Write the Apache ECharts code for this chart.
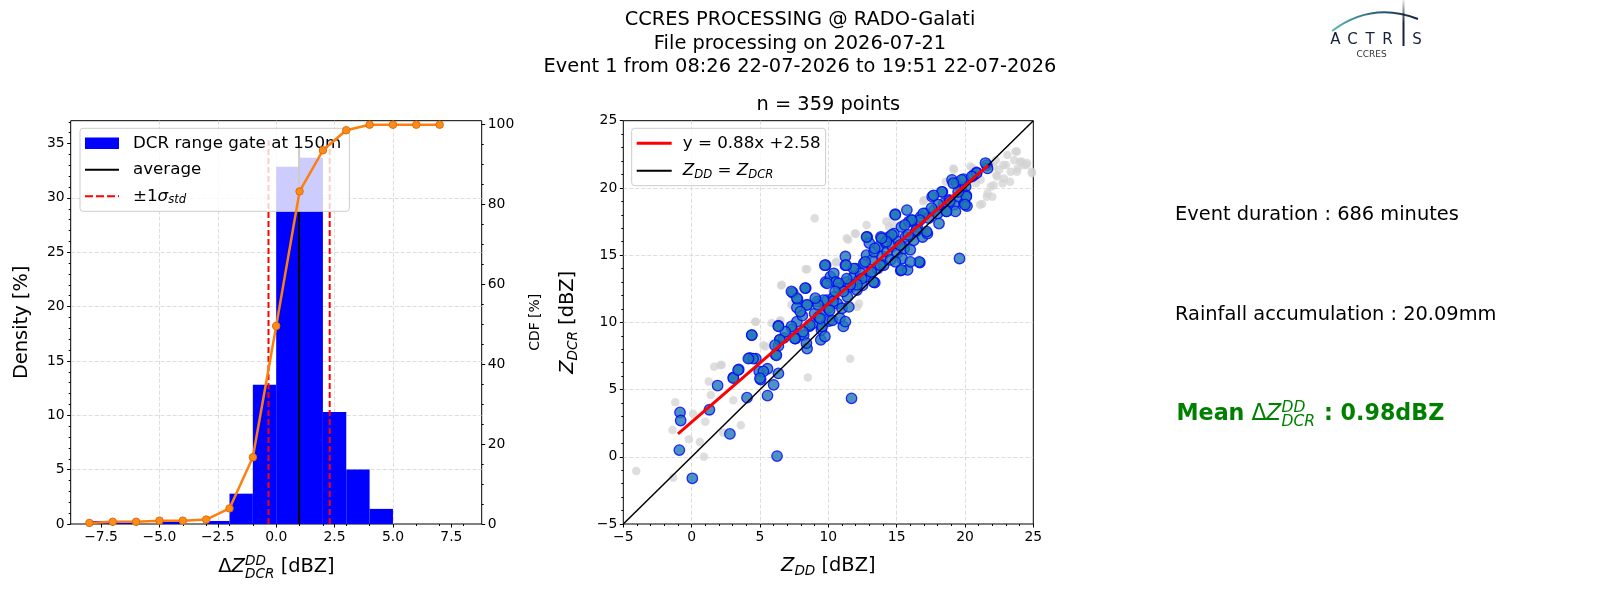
<!DOCTYPE html>
<html>
<head>
<meta charset="utf-8">
<script src="https://cdn.jsdelivr.net/npm/echarts@6/dist/echarts.min.js"></script>
<style>
  html, body { margin: 0; padding: 0; background: #fff; }
  #main { width: 1600px; height: 600px; }
</style>
</head>
<body>
<div id="main"></div>
<script>
// histogram of delta Z (bin start, 1 dBZ wide) in % density
var binStart = [-8, -7, -6, -5, -4, -3, -2, -1, 0, 1, 2, 3, 4];
var density = [0.28, 0.28, 0, 0.28, 0, 0.28, 2.79, 12.81, 32.87, 33.70, 10.31, 5.01, 1.39];
// cumulative distribution (orange line)
var cdfX = [-8, -7, -6, -5, -4, -3, -2, -1, 0, 1, 2, 3, 4, 5, 6, 7];
var cdfY = [0.28, 0.56, 0.56, 0.84, 0.84, 1.11, 3.90, 16.71, 49.58, 83.29, 93.59, 98.61, 100, 100, 100, 100];
// mean and +-1 std markers
var meanDelta = 0.98;
var meanTop = 34.6;
var sigmaLo = -0.33;
var sigmaHi = 2.29;
var sigmaTop = 35.3;

// tick labels
var deltaTicks = [-7.5, -5, -2.5, 0, 2.5, 5, 7.5];
var densityTicks = [0, 5, 10, 15, 20, 25, 30, 35];
var cdfTicks = [0, 20, 40, 60, 80, 100];

// scatter Z_DD vs Z_DCR, points used (blue) and all others (grey)
var usedPts = [[-0.85,3.3],[-0.8,2.7],[-0.9,0.5],[0.05,-1.6],[1.3,3.5],[1.9,5.3],[2.8,1.7],[3.05,5.9],[3.45,6.5],[4.05,4.4],[4.4,9.05],[4.25,7.35],[4.7,7.3],[4.95,6.35],[5.05,5.75],[5.55,6.55],[5.55,4.55],[6.0,5.35],[6.15,7.6],[6.25,0.05],[6.35,6.2],[6.35,8.25],[6.35,9.75],[6.45,8.7],[6.75,8.85],[11.7,4.35],[7.35,9.5],[7.4,12.2],[7.6,8.8],[7.7,10.05],[7.75,11.7],[7.7,11.1],[8.1,10.5],[8.35,12.55],[8.2,9.05],[8.45,8.05],[8.4,8.45],[8.45,11.3],[8.6,9.7],[8.85,9.9],[9.0,10.65],[9.2,11.55],[9.3,10.4],[9.45,8.7],[9.5,9.45],[9.55,9.7],[9.7,10.9],[9.75,8.95],[9.8,14.25],[9.8,13.0],[9.9,11.65],[10.0,11.05],[10.05,10.1],[10.15,13.4],[10.3,10.15],[10.4,11.9],[10.4,13.65],[10.55,13.0],[10.65,11.4],[10.75,12.55],[10.85,10.3],[11.0,11.05],[11.1,9.7],[11.25,10.05],[11.25,14.9],[11.25,14.25],[11.35,13.0],[11.4,11.9],[11.5,11.15],[11.65,12.65],[11.85,13.4],[12.0,14.0],[12.1,12.4],[12.25,13.15],[12.35,13.65],[12.5,12.75],[12.6,14.4],[12.75,13.4],[12.8,15.0],[12.85,16.35],[13.0,15.9],[13.1,13.75],[13.2,14.65],[13.35,15.25],[13.4,12.95],[13.6,14.0],[13.7,15.65],[13.85,16.35],[13.95,14.9],[14.05,14.25],[14.2,15.9],[14.3,15.25],[14.45,16.35],[14.55,14.65],[14.7,15.65],[14.8,16.6],[14.9,18.05],[15.05,15.15],[15.15,16.0],[15.3,13.85],[15.35,17.1],[15.4,14.75],[15.55,15.5],[15.65,16.35],[15.75,18.35],[15.8,13.9],[15.9,17.5],[16.0,15.4],[16.15,17.6],[16.25,16.1],[16.4,16.75],[16.5,17.1],[16.7,14.45],[16.75,17.85],[16.9,16.35],[17.1,18.1],[17.25,16.6],[17.35,17.75],[17.6,19.35],[17.75,18.35],[18.0,18.1],[18.1,17.35],[18.35,19.7],[18.45,18.85],[18.65,18.25],[18.85,19.1],[19.05,20.6],[19.2,18.75],[19.3,18.25],[19.4,20.35],[19.55,19.35],[19.6,14.75],[19.75,19.85],[19.9,20.65],[19.95,18.85],[20.05,20.1],[20.1,19.45],[20.15,18.65],[20.65,20.95],[20.85,21.15],[21.6,21.7],[21.65,21.45],
  [21.5,21.85],[20.85,21.1],[20.5,20.85],[20.1,19.35],[20.0,18.75],[19.75,20.6],[19.5,19.7],[19.15,20.35],[18.9,19.0],[18.65,18.25],[18.3,19.7],[18.05,18.75],[17.7,19.45],[17.55,18.5],[17.2,16.75],[16.95,18.1],[16.7,17.6],[16.65,14.5],[16.45,16.85],[16.1,17.6],[16.0,14.5],[15.85,16.5],[15.6,17.25],[15.35,13.9],[15.25,15.75],[14.9,18.0],[14.9,14.5],[14.65,16.5],[14.25,16.0],[13.9,16.25],[13.8,14.25],[13.4,15.5],[13.3,13.0],[13.15,13.75],[12.8,16.35],[12.7,14.5],[12.45,13.25],[12.1,12.8],[11.85,14.0],[11.6,12.8],[11.35,13.25],[11.3,14.25],[11.1,12.3],[10.75,12.9],[10.5,12.3],[10.35,11.55],[10.1,10.9],[9.9,12.9],[9.75,14.25],[9.65,11.65],[9.4,10.3],[9.25,11.3],[9.05,11.8],[8.65,9.8],[8.45,11.3],[8.3,12.55],[8.15,9.3],[7.95,10.8],[7.7,11.8],[7.55,8.8],[7.3,12.3],[7.3,9.7],[6.85,9.3],[6.35,9.7],[6.45,8.7],[6.2,7.55],[6.1,8.3],[5.25,6.35],[5.0,5.85],[4.5,7.3],[4.15,7.3],[4.4,9.05],[3.05,5.85],[3.4,6.45]];
var otherPts = [[-4.05,-1.05],[-1.35,-1.55],[-1.4,2.0],[-1.2,4.05],[-0.2,1.3],[0.1,3.2],[0.6,1.1],[0.9,0.0],[1.0,2.6],[1.4,4.6],[1.25,5.6],[1.65,6.7],[2.2,6.85],[2.3,1.8],[3.05,4.2],[3.6,2.35],[4.7,10.05],[5.4,8.2],[5.85,9.95],[6.5,10.15],[6.55,12.75],[8.45,13.95],[8.5,5.9],[9.0,17.75],[10.55,14.45],[11.45,16.15],[11.6,7.3],[12.0,16.6],[12.25,11.4],[14.45,17.1],[14.7,17.85],[17.0,19.1],[18.6,20.45],[19.2,21.35],[20.4,21.6],[20.8,20.35],[21.15,20.6],[21.25,18.8],[21.65,19.6],[21.9,20.1],[22.0,19.35],[22.25,22.05],[22.35,20.85],[22.5,21.35],[22.75,20.35],[23.0,21.7],[23.1,22.45],[23.35,21.2],[23.6,22.05],[23.7,22.7],[23.85,21.45],[24.05,21.95],[24.3,21.7],[24.55,21.85],[24.9,21.2],[22.85,20.7],[22.1,21.6],
  [11.35,16.25],[11.95,16.6],[8.35,13.95],[6.6,12.8],[10.6,14.5],[12.8,17.25],[14.25,17.5],[14.75,17.25],[16.95,19.0],[19.15,21.45],[20.6,21.45],[21.1,18.75],[21.6,19.35],[22.1,20.2],[22.3,20.95],[22.8,21.7],[23.8,22.7],[24.15,21.95],[24.5,21.7],[24.9,21.1],[23.8,21.2],[23.3,20.45],[12.1,11.15],[4.65,10.05],[5.25,8.3],[6.45,10.05],[2.1,6.8],[7.3,11.3]];
// fitted line y = 0.88x + 2.58 (end points) and the 1:1 line
var fitLine = [[-1.0, 1.70], [21.7, 21.68]];
var oneToOne = [[-5, -5], [25, 25]];
var zTicks = [-5, 0, 5, 10, 15, 20, 25];

var titleLines = ['CCRES PROCESSING @ RADO-Galati', 'File processing on 2026-07-21', 'Event 1 from 08:26 22-07-2026 to 19:51 22-07-2026'];
var scatterTitle = 'n = 359 points';
var eventText = 'Event duration : 686 minutes';
var rainText = 'Rainfall accumulation : 20.09mm';
var meanText = ': 0.98dBZ';

var FONT = 'DejaVu Sans';
var minorDelta = [], minorDensity = [], minorCdf = [];
for (var i = -8; i <= 8; i++) minorDelta.push(i);
for (var i = 0; i <= 37; i++) minorDensity.push(i);
for (var i = 0; i <= 100; i += 5) minorCdf.push(i);

function minus(s) { return String(s).replace('-', '\u2212'); }

var gridLine = { show: true, showMinLine: false, showMaxLine: false, lineStyle: { type: [4, 2], color: '#d4d4d4', width: 0.8 } };
var tickStyle = { color: '#000', width: 1 };
var labelStyle = { color: '#000', fontSize: 13.9, fontFamily: FONT, margin: 6 };
var noLine = { show: false, onZero: false };

function minorAxis(grid, pos, ticks, max, min) {
  return {
    type: 'value', gridIndex: grid, position: pos, min: min, max: max,
    axisLine: noLine, axisLabel: { show: false }, splitLine: { show: false },
    axisTick: { show: true, length: 2, lineStyle: tickStyle, customValues: ticks }
  };
}

var richName = {
  i: { fontStyle: 'italic', fontSize: 19.4, fontFamily: FONT, lineHeight: 24 },
  sub: { fontStyle: 'italic', fontSize: 13.6, fontFamily: FONT, lineHeight: 12, verticalAlign: 'bottom' }
};

var legendNames = {
  'DCR range gate at 150m': 'DCR range gate at 150m',
  'average': 'average',
  'sigma': '\u00b11{i|\u03c3}{sub|std}',
  'fit': 'y = 0.88x +2.58',
  'one': '{i|Z}{sub|DD} = {i|Z}{sub|DCR}'
};
function legendRich(fs) {
  return {
    i: { fontStyle: 'italic', fontSize: fs, fontFamily: FONT, lineHeight: 20 },
    sub: { fontStyle: 'italic', fontSize: fs * 0.7, fontFamily: FONT, lineHeight: 10, verticalAlign: 'bottom' }
  };
}
var solidIcon = 'path://M0,0H34V2H0Z';
var thickIcon = 'path://M0,0H34V3H0Z';
var dashIcon = 'path://M0,0H8V2H0Z M11,0H19V2H11Z M22,0H30V2H22Z M33,0H34V2H33Z';

var histData = [];
binStart.forEach(function (b, k) { if (density[k] > 0) histData.push([b, b + 1, density[k]]); });
var cdfData = cdfX.map(function (x, k) { return [x, cdfY[k]]; });

function txt(x, y, text, extra) {
  var s = { text: text, fill: '#000', fontFamily: FONT, fontSize: 19.4, align: 'left', verticalAlign: 'middle' };
  for (var k in extra) s[k] = extra[k];
  return { type: 'text', x: x, y: y, z: 100, silent: true, style: s };
}

var graphics = [];
titleLines.forEach(function (t, k) { graphics.push(txt(800, 20.4 + k * 23.4, t, { align: 'center' })); });
graphics.push(txt(828.3, 104.9, scatterTitle, { align: 'center' }));
graphics.push(txt(1175, 214.5, eventText));
graphics.push(txt(1175, 314.8, rainText));
// Mean delta Z line (larger font)
var green = '#008000';
graphics.push(txt(1176.5, 414.2, 'Mean', { fill: green, fontWeight: 'bold', fontSize: 22.2 }));
graphics.push(txt(1251.5, 414.2, '\u0394', { fill: green, fontSize: 22.2 }));
graphics.push(txt(1266, 414.2, 'Z', { fill: green, fontStyle: 'italic', fontSize: 22.2 }));
graphics.push(txt(1281.5, 408.2, 'DD', { fill: green, fontStyle: 'italic', fontSize: 15.5 }));
graphics.push(txt(1281.5, 421.5, 'DCR', { fill: green, fontStyle: 'italic', fontSize: 15.5 }));
graphics.push(txt(1324, 414.2, meanText, { fill: green, fontWeight: 'bold', fontSize: 22.2 }));
// left x axis name
graphics.push(txt(218.2, 567, '\u0394', {}));
graphics.push(txt(231.5, 567, 'Z', { fontStyle: 'italic' }));
graphics.push(txt(245, 561.5, 'DD', { fontStyle: 'italic', fontSize: 13.6 }));
graphics.push(txt(245, 574, 'DCR', { fontStyle: 'italic', fontSize: 13.6 }));
graphics.push(txt(274.5, 567, ' [dBZ]', {}));
// ACTRIS logo
var navy = '#16203a';
graphics.push({ type: 'bezierCurve', z: 100, silent: true,
  shape: { x1: 1332, y1: 31, x2: 1418, y2: 19, cpx1: 1372, cpy1: 1 },
  style: { fill: null, lineWidth: 2, stroke: { type: 'linear', x: 0, y: 0, x2: 1, y2: 0,
    colorStops: [{ offset: 0, color: '#5cc0b8' }, { offset: 0.55, color: '#2a5a78' }, { offset: 1, color: navy }] } } });
graphics.push({ type: 'line', z: 100, silent: true,
  shape: { x1: 1403.5, y1: 0, x2: 1403.5, y2: 46 },
  style: { lineWidth: 2, stroke: { type: 'linear', x: 0, y: 0, x2: 0, y2: 1,
    colorStops: [{ offset: 0, color: 'rgba(22,32,58,0)' }, { offset: 0.5, color: navy }, { offset: 1, color: navy }] } } });
['A', 'C', 'T', 'R', 'S'].forEach(function (c, k) {
  var xs = [1335.5, 1352.5, 1370, 1387.5, 1417];
  graphics.push(txt(xs[k], 40.5, c, { align: 'center', fontSize: 15, fill: navy }));
});
graphics.push(txt(1371.5, 55, 'CCRES', { align: 'center', fontSize: 9, fill: '#333' }));

var option = {
  animation: false,
  backgroundColor: '#fff',
  textStyle: { fontFamily: FONT },
  grid: [
    { left: 70.7, top: 120.7, width: 411, height: 403.3, show: true, borderColor: '#000', borderWidth: 1, containLabel: false, outerBoundsMode: 'none' },
    { left: 623.3, top: 120.7, width: 410, height: 403.3, show: true, borderColor: '#000', borderWidth: 1, containLabel: false, outerBoundsMode: 'none' }
  ],
  legend: [
    {
      left: 80, top: 128.3, orient: 'vertical', selectedMode: false,
      padding: [5, 8, 5, 5], itemGap: 6.5, itemWidth: 34, itemHeight: 11.4,
      backgroundColor: 'rgba(255,255,255,0.8)', borderColor: '#cccccc', borderWidth: 1, borderRadius: 3,
      textStyle: { fontSize: 16.7, fontFamily: FONT, color: '#000', lineHeight: 20, padding: [0, 0, 0, 9], rich: legendRich(16.7) },
      formatter: function (n) { return legendNames[n]; },
      data: [
        { name: 'DCR range gate at 150m', icon: 'rect', itemStyle: { color: '#0000ff', borderWidth: 0 } },
        { name: 'average', icon: solidIcon, itemStyle: { color: '#000', borderWidth: 0 } },
        { name: 'sigma', icon: dashIcon, itemStyle: { color: '#ff0000', borderWidth: 0 } }
      ]
    },
    {
      left: 631.7, top: 128.3, orient: 'vertical', selectedMode: false,
      padding: [5, 5, 5, 5], itemGap: 7.4, itemWidth: 35, itemHeight: 11,
      backgroundColor: 'rgba(255,255,255,0.8)', borderColor: '#cccccc', borderWidth: 1, borderRadius: 3,
      textStyle: { fontSize: 16.7, fontFamily: FONT, color: '#000', lineHeight: 20, padding: [0, 0, 0, 6], rich: legendRich(16.7) },
      formatter: function (n) { return legendNames[n]; },
      data: [
        { name: 'fit', icon: thickIcon, itemStyle: { color: '#ff0000', borderWidth: 0 } },
        { name: 'one', icon: solidIcon, itemStyle: { color: '#000', borderWidth: 0 } }
      ]
    }
  ],
  xAxis: [
    {
      type: 'value', gridIndex: 0, position: 'bottom', min: -8.8, max: 8.8,
      axisLine: noLine,
      axisTick: { show: true, length: 3.5, lineStyle: tickStyle, customValues: deltaTicks },
      axisLabel: Object.assign({ customValues: deltaTicks, formatter: function (v) { return minus(v.toFixed(1)); } }, labelStyle),
      splitLine: gridLine
    },
    minorAxis(0, 'bottom', minorDelta, 8.8, -8.8),
    {
      type: 'value', gridIndex: 1, position: 'bottom', min: -5, max: 25, interval: 5,
      axisLine: noLine,
      axisTick: { show: true, length: 3.5, lineStyle: tickStyle },
      minorTick: { show: true, splitNumber: 5, length: 2, lineStyle: tickStyle },
      axisLabel: Object.assign({ formatter: function (v) { return minus(v); } }, labelStyle),
      splitLine: gridLine,
      name: '{i|Z}{sub|DD} [dBZ]', nameLocation: 'middle', nameGap: 30,
      nameTextStyle: { fontSize: 19.4, fontFamily: FONT, color: '#000', lineHeight: 24, rich: richName }
    }
  ],
  yAxis: [
    {
      type: 'value', gridIndex: 0, position: 'left', min: 0, max: 37.1,
      axisLine: noLine,
      axisTick: { show: true, length: 3.5, lineStyle: tickStyle, customValues: densityTicks },
      axisLabel: Object.assign({ customValues: densityTicks }, labelStyle),
      splitLine: gridLine,
      name: 'Density [%]', nameLocation: 'middle', nameRotate: 90, nameGap: 36.3,
      nameTextStyle: { fontSize: 19.4, fontFamily: FONT, color: '#000', lineHeight: 24 }
    },
    minorAxis(0, 'left', minorDensity, 37.1, 0),
    {
      type: 'value', gridIndex: 0, position: 'right', min: 0, max: 101,
      axisLine: noLine,
      axisTick: { show: true, length: 3.5, lineStyle: tickStyle, customValues: cdfTicks },
      axisLabel: Object.assign({ customValues: cdfTicks }, labelStyle),
      splitLine: { show: false },
      name: 'CDF [%]', nameLocation: 'middle', nameRotate: 90, nameGap: 44.5,
      nameTextStyle: { fontSize: 13.9, fontFamily: FONT, color: '#000', lineHeight: 18 }
    },
    minorAxis(0, 'right', minorCdf, 101, 0),
    {
      type: 'value', gridIndex: 1, position: 'left', min: -5, max: 25, interval: 5,
      axisLine: noLine,
      axisTick: { show: true, length: 3.5, lineStyle: tickStyle },
      minorTick: { show: true, splitNumber: 5, length: 2, lineStyle: tickStyle },
      axisLabel: Object.assign({ formatter: function (v) { return minus(v); } }, labelStyle),
      splitLine: gridLine,
      name: '{i|Z}{sub|DCR} [dBZ]', nameLocation: 'middle', nameRotate: 90, nameGap: 43.3,
      nameTextStyle: { fontSize: 19.4, fontFamily: FONT, color: '#000', lineHeight: 24, rich: richName }
    }
  ],
  series: [
    {
      name: 'DCR range gate at 150m', type: 'custom', xAxisIndex: 0, yAxisIndex: 0,
      itemStyle: { color: '#0000ff' },
      encode: { x: [0, 1], y: 2 },
      data: histData,
      renderItem: function (params, api) {
        var p0 = api.coord([api.value(0), api.value(2)]);
        var p1 = api.coord([api.value(1), 0]);
        return { type: 'rect', shape: { x: p0[0], y: p0[1], width: p1[0] - p0[0], height: p1[1] - p0[1] }, style: { fill: '#0000ff' } };
      }
    },
    {
      name: 'average', type: 'line', xAxisIndex: 0, yAxisIndex: 0, symbol: 'none', silent: true,
      itemStyle: { color: '#000' }, lineStyle: { color: '#000', width: 2 },
      data: [[meanDelta, 0], [meanDelta, meanTop]]
    },
    {
      name: 'sigma', type: 'line', xAxisIndex: 0, yAxisIndex: 0, symbol: 'none', silent: true,
      itemStyle: { color: '#ff0000' }, lineStyle: { color: '#ff0000', width: 2, type: [6, 3] },
      data: [[sigmaLo, 0], [sigmaLo, sigmaTop]]
    },
    {
      name: 'sigma', type: 'line', xAxisIndex: 0, yAxisIndex: 0, symbol: 'none', silent: true,
      itemStyle: { color: '#ff0000' }, lineStyle: { color: '#ff0000', width: 2, type: [6, 3] },
      data: [[sigmaHi, 0], [sigmaHi, sigmaTop]]
    },
    {
      name: 'cdf', type: 'line', xAxisIndex: 0, yAxisIndex: 2, z: 6, silent: true,
      symbol: 'circle', symbolSize: 7.5,
      itemStyle: { color: '#ff8c1a', borderColor: '#d9700a', borderWidth: 1 },
      lineStyle: { color: '#ff7f0e', width: 2.5 },
      data: cdfData
    },
    {
      name: 'all', type: 'scatter', xAxisIndex: 2, yAxisIndex: 4, silent: true,
      symbolSize: 8.5, itemStyle: { color: '#d3d3d3', opacity: 0.75 },
      data: otherPts
    },
    {
      name: 'used', type: 'scatter', xAxisIndex: 2, yAxisIndex: 4, silent: true,
      symbolSize: 10.5, itemStyle: { color: '#1f77b4', borderColor: '#0000ff', borderWidth: 1.3 },
      data: usedPts
    },
    {
      name: 'one', type: 'line', xAxisIndex: 2, yAxisIndex: 4, symbol: 'none', silent: true, z: 3,
      itemStyle: { color: '#000' }, lineStyle: { color: '#000', width: 1.5 },
      data: oneToOne
    },
    {
      name: 'fit', type: 'line', xAxisIndex: 2, yAxisIndex: 4, symbol: 'none', silent: true, z: 3,
      itemStyle: { color: '#ff0000' }, lineStyle: { color: '#ff0000', width: 3 },
      data: fitLine
    }
  ],
  graphic: graphics
};

var chart = echarts.init(document.getElementById('main'));
chart.setOption(option);
</script>
</body>
</html>
